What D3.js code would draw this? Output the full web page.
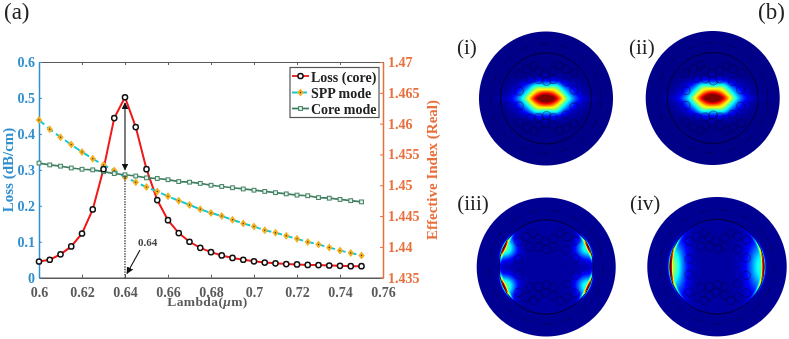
<!DOCTYPE html>
<html>
<head>
<meta charset="utf-8">
<title>Loss and effective index</title>
<script src="https://d3js.org/d3.v7.min.js"></script>
<style>
  html, body { margin: 0; padding: 0; background: #fff; }
  #wrap { position: relative; width: 789px; height: 339px; overflow: hidden; }
  #wrap canvas, #wrap svg { position: absolute; left: 0; top: 0; }
  svg { font-family: "Liberation Serif", serif; }
  #wrap { filter: blur(0.4px); }
</style>
</head>
<body>
<div id="wrap"></div>
<script>
// ---- data ----
var lambda = d3.range(31).map(function(i) { return +(0.6 + i * 0.005).toFixed(3); });
var lossCore = [0.045, 0.05, 0.065, 0.087, 0.123, 0.19, 0.302, 0.444, 0.502, 0.419, 0.302, 0.216, 0.16, 0.124, 0.1, 0.083,
  0.071, 0.062, 0.055, 0.05, 0.0456, 0.042, 0.04, 0.038, 0.037, 0.0355, 0.035, 0.034, 0.033, 0.032, 0.032];
var sppMode = [1.4606, 1.4591, 1.4578, 1.4566, 1.4554, 1.4543, 1.4533, 1.4524, 1.4513, 1.4505, 1.4497, 1.449, 1.4482, 1.4475, 1.4468, 1.4461,
  1.4455, 1.445, 1.4444, 1.4438, 1.4433, 1.4427, 1.4423, 1.4418, 1.4413, 1.4408, 1.4404, 1.4399, 1.4394, 1.439, 1.4386];
var coreMode = [1.4536, 1.4533, 1.4531, 1.4528, 1.4526, 1.4525, 1.4522, 1.4519, 1.4517, 1.4515, 1.4512, 1.4511, 1.4509, 1.4506, 1.4505, 1.4503,
  1.45, 1.4498, 1.4496, 1.4494, 1.4492, 1.449, 1.4488, 1.4486, 1.4484, 1.4483, 1.448, 1.4479, 1.4477, 1.4475, 1.4473];
var xTicks = [0.6, 0.62, 0.64, 0.66, 0.68, 0.7, 0.72, 0.74, 0.76];
var lossTicks = [0, 0.1, 0.2, 0.3, 0.4, 0.5, 0.6];
var indexTicks = [1.435, 1.44, 1.445, 1.45, 1.455, 1.46, 1.465, 1.47];
var legendNames = ["Loss (core)", "SPP mode", "Core mode"];
var panelNames = ["(i)", "(ii)", "(iii)", "(iv)"];

// mode field panels: centre + radius, and how strong each kind of lobe is
var panelX = [546, 712.7, 546.2, 717];
var panelY = [98.5, 98, 267, 266.7];
var panelR = [67, 67, 69.5, 69.7];
var panelKind = ["core", "core", "spp2", "spp1"];
// air holes in the upper half, as fraction of the outer radius (mirrored for the lower half)
var holes = [[-83,-76],[-60,-91],[-38,-101],[-23,-86],[-48,-61],[-83,-23],[-23,-59],[-3,-76],
  [22,-86],[42,-101],[62,-91],[87,-79],[22,-59],[2,-53],[87,-26],[62,-51]].map(function(d) { return [d[0] / 208, d[1] / 208]; });

var W = 789, H = 339;
var blue = "#2f8fcf", orange = "#e8703c", gray = "#5a5a5a";

var wrap = d3.select("#wrap");
var canvas = wrap.append("canvas").attr("width", W).attr("height", H);
var svg = wrap.append("svg").attr("width", W).attr("height", H);

// ---- left chart ----
var x = d3.scaleLinear().domain([0.6, 0.76]).range([39, 383]);
var yLoss = d3.scaleLinear().domain([0, 0.6]).range([277.7, 62]);
var yIndex = d3.scaleLinear().domain([1.435, 1.47]).range([277.7, 62]);

var fmt = function(d) { return String(d); };

function styleAxis(g, color, size) {
  g.selectAll("path").attr("stroke", color).attr("stroke-width", size);
  g.selectAll("line").attr("stroke", color).attr("stroke-width", 1);
  g.selectAll("text").attr("fill", color).style("font-size", "14px").style("font-weight", "bold")
    .style("font-family", '"Liberation Serif", serif');
}

var axisT = svg.append("g").attr("transform", "translate(0,62)")
  .call(d3.axisTop(x).tickValues(xTicks).tickSize(-3).tickSizeOuter(0).tickFormat(""));
styleAxis(axisT, gray, 1);
var axisB = svg.append("g").attr("transform", "translate(0,277.7)")
  .call(d3.axisBottom(x).tickValues(xTicks).tickSize(-3).tickSizeOuter(0).tickPadding(9).tickFormat(fmt));
styleAxis(axisB, gray, 1.6);
var axisL = svg.append("g").attr("transform", "translate(39,0)")
  .call(d3.axisLeft(yLoss).tickValues(lossTicks).tickSize(-3).tickSizeOuter(0).tickPadding(4).tickFormat(fmt));
styleAxis(axisL, blue, 1.5);
var axisR = svg.append("g").attr("transform", "translate(383,0)")
  .call(d3.axisRight(yIndex).tickValues(indexTicks).tickSize(-3).tickSizeOuter(0).tickPadding(5).tickFormat(fmt));
styleAxis(axisR, orange, 1.5);

svg.append("text").attr("transform", "translate(13,170) rotate(-90)").attr("text-anchor", "middle")
  .attr("fill", blue).style("font-size", "15px").style("font-weight", "bold").text("Loss (dB/cm)");
svg.append("text").attr("transform", "translate(437,170) rotate(-90)").attr("text-anchor", "middle")
  .attr("fill", orange).style("font-size", "15px").style("font-weight", "bold").text("Effective Index (Real)");
var xl = svg.append("text").attr("x", 207.5).attr("y", 306).attr("text-anchor", "middle").attr("fill", gray)
  .style("font-size", "13.5px").style("font-weight", "bold").style("letter-spacing", "0.4px");
xl.append("tspan").text("Lambda(");
xl.append("tspan").style("font-style", "italic").text("\u03bc");
xl.append("tspan").text("m)");

// series
var lineLoss = d3.line().x(function(d, i) { return x(lambda[i]); }).y(function(d) { return yLoss(d); });
var lineIndex = d3.line().x(function(d, i) { return x(lambda[i]); }).y(function(d) { return yIndex(d); });

svg.append("path").attr("d", lineLoss(lossCore)).attr("fill", "none").attr("stroke", "#f01818").attr("stroke-width", 2);
svg.append("path").attr("d", lineIndex(sppMode)).attr("fill", "none").attr("stroke", "#18c8d0")
  .attr("stroke-width", 2).attr("stroke-dasharray", "7,4");
svg.append("path").attr("d", lineIndex(coreMode)).attr("fill", "none").attr("stroke", "#3f7f60").attr("stroke-width", 1.7);

var diamond = "M0,-4L3.2,0L0,4L-3.2,0Z";
function sppMarker(g) {
  g.append("path").attr("d", diamond).attr("fill", "#f4b020");
  g.append("circle").attr("r", 0.7).attr("fill", "#333");
}
function coreMarker(g) {
  g.append("rect").attr("x", -1.9).attr("y", -1.9).attr("width", 3.8).attr("height", 3.8)
    .attr("fill", "#e8f2ec").attr("stroke", "#3f7f60").attr("stroke-width", 1);
}
function lossMarker(g) {
  g.append("circle").attr("r", 2.6).attr("fill", "#fff").attr("stroke", "#111").attr("stroke-width", 1.5);
}

svg.append("g").selectAll("g").data(sppMode).join("g")
  .attr("transform", function(d, i) { return "translate(" + x(lambda[i]) + "," + yIndex(d) + ")"; })
  .each(function() { sppMarker(d3.select(this)); });
svg.append("g").selectAll("g").data(coreMode).join("g")
  .attr("transform", function(d, i) { return "translate(" + x(lambda[i]) + "," + yIndex(d) + ")"; })
  .each(function() { coreMarker(d3.select(this)); });
svg.append("g").selectAll("g").data(lossCore).join("g")
  .attr("transform", function(d, i) { return "translate(" + x(lambda[i]) + "," + yLoss(d) + ")"; })
  .each(function() { lossMarker(d3.select(this)); });

// annotation arrows
var defs = svg.append("defs");
defs.append("marker").attr("id", "head").attr("viewBox", "0 0 10 10").attr("refX", 9).attr("refY", 5)
  .attr("markerWidth", 7).attr("markerHeight", 7).attr("markerUnits", "userSpaceOnUse").attr("orient", "auto-start-reverse")
  .append("path").attr("d", "M0,0L10,5L0,10Z").attr("fill", "#111");
var x64 = x(0.64);
svg.append("line").attr("x1", x64).attr("x2", x64).attr("y1", yLoss(0.486)).attr("y2", yLoss(0.3))
  .attr("stroke", "#111").attr("stroke-width", 1.1)
  .attr("marker-start", "url(#head)").attr("marker-end", "url(#head)");
svg.append("line").attr("x1", x64).attr("x2", x64).attr("y1", yLoss(0.285)).attr("y2", yLoss(0))
  .attr("stroke", "#222").attr("stroke-width", 1.2).attr("stroke-dasharray", "1.4,1.2");
svg.append("line").attr("x1", 140).attr("y1", 250).attr("x2", 127).attr("y2", 273.5)
  .attr("stroke", "#111").attr("stroke-width", 1.1).attr("marker-end", "url(#head)");
svg.append("text").attr("x", 138).attr("y", 246).attr("fill", "#444")
  .style("font-size", "11px").style("font-weight", "bold").text("0.64");

// legend
var lg = svg.append("g");
lg.append("rect").attr("x", 290).attr("y", 67.5).attr("width", 89).attr("height", 50)
  .attr("fill", "#fff").attr("stroke", "#555").attr("stroke-width", 1.2);
var legendY = [76, 92.5, 108.5];
var sampleStyle = [["#f01818", null], ["#18c8d0", "6,3"], ["#3f7f60", null]];
var sampleMarker = [lossMarker, sppMarker, coreMarker];
legendNames.forEach(function(name, i) {
  lg.append("line").attr("x1", 292).attr("x2", 309).attr("y1", legendY[i]).attr("y2", legendY[i])
    .attr("stroke", sampleStyle[i][0]).attr("stroke-width", 1.8).attr("stroke-dasharray", sampleStyle[i][1]);
  sampleMarker[i](lg.append("g").attr("transform", "translate(300.5," + legendY[i] + ")"));
  lg.append("text").attr("x", 311).attr("y", legendY[i] + 5.5).attr("fill", "#222")
    .style("font-size", "14px").style("font-weight", "bold").text(name);
});

// ---- mode fields ----
var jet = d3.scaleLinear()
  .domain([0, 0.125, 0.375, 0.625, 0.875, 1])
  .range(["#000088", "#0000ff", "#00ffff", "#ffff00", "#ff0000", "#800000"])
  .clamp(true);

function g2(dx, dy, sx, sy) { return Math.exp(-(dx * dx) / (sx * sx) - (dy * dy) / (sy * sy)); }

function coreField(dx, dy) {
  var v = 1.05 * g2(dx, dy, 21.5, 12.5);
  v += 0.09 * g2(dx, dy, 36, 3);
  v += 0.1 * (g2(dx - 10, dy - 12, 6, 4.5) + g2(dx + 10, dy - 12, 6, 4.5) + g2(dx - 10, dy + 12, 6, 4.5) + g2(dx + 10, dy + 12, 6, 4.5));
  return v;
}

// lobe hugging the metal ring; ang in degrees from the horizontal
function lobe(rho, ang, ang0, angW, amp, R, s2) {
  var da = (ang - ang0) / angW;
  var a = Math.exp(-da * da);
  var d = R - rho;
  var rad = d > 0 ? Math.exp(-(d * d) / s2) : Math.exp(-(d * d) / 5);
  var thin = Math.exp(-(d * d) / 1.6);
  return a * (amp * rad + 0.55 * thin);
}

function sppField(kind, dx, dy, R) {
  var rho = Math.sqrt(dx * dx + dy * dy);
  var ang = Math.atan2(dy, Math.abs(dx)) * 180 / Math.PI;
  var v = rho < R ? 0.025 : 0.01;
  if (kind === "spp2") {
    var ampS = dx < 0 ? 0.48 : 0.42;
    v += lobe(rho, ang, -25, 14, ampS, R, 130) + lobe(rho, ang, 25, 14, ampS, R, 130);
  } else {
    var ampL = dx < 0 ? 0.52 : 0.42;
    v += lobe(rho, ang, 0, 30, ampL, R, dx < 0 ? 180 : 220);
  }
  return v;
}

var ctx = canvas.node().getContext("2d");
var img = ctx.createImageData(W, H);
panelX.forEach(function(cx, p) {
  var r = panelR[p], kind = panelKind[p];
  var cy = panelY[p];
  var ringR = r * 0.665;
  d3.range(Math.floor(cy - r - 2), Math.min(H, Math.ceil(cy + r + 2))).forEach(function(py) {
    d3.range(Math.floor(cx - r - 2), Math.min(W, Math.ceil(cx + r + 2))).forEach(function(px) {
      var dx = px + 0.5 - cx, dy = py + 0.5 - cy;
      var dist = Math.sqrt(dx * dx + dy * dy);
      var alpha = Math.max(0, Math.min(1, r + 0.5 - dist));
      if (alpha <= 0) return;
      var v = kind === "core" ? coreField(dx, dy) : sppField(kind, dx, dy, ringR);
      var c = d3.rgb(jet(v));
      var k = (py * W + px) * 4;
      img.data[k] = c.r; img.data[k + 1] = c.g; img.data[k + 2] = c.b; img.data[k + 3] = alpha * 255;
    });
  });
});
ctx.putImageData(img, 0, 0);

// structure outlines on top of the fields
panelX.forEach(function(cx, p) {
  var r = panelR[p], cy = panelY[p];
  var g = svg.append("g").attr("transform", "translate(" + cx + "," + cy + ")");
  g.append("circle").attr("r", r * 0.68).attr("fill", "none").attr("stroke", "#00002c").attr("stroke-width", 0.9);
  g.append("circle").attr("r", r * 0.82).attr("fill", "none").attr("stroke", "#000040").attr("stroke-opacity", 0.8)
    .attr("stroke-width", 0.7).attr("stroke-dasharray", "9,5,2,5");
  holes.forEach(function(h) {
    [1, -1].forEach(function(s) {
      g.append("circle").attr("cx", h[0] * r).attr("cy", s * h[1] * r).attr("r", r * 0.06)
        .attr("fill", "none").attr("stroke", "#000040").attr("stroke-opacity", 0.75).attr("stroke-width", 0.7);
    });
  });
});

// ---- panel labels ----
function label(t, px, py, size) {
  svg.append("text").attr("x", px).attr("y", py).attr("fill", "#222").style("font-size", size + "px").text(t);
}
label("(a)", 4, 19, 23);
label("(b)", 758, 19, 23);
var labelX = [457, 629, 457.3, 630];
var labelY = [54, 54, 210, 210];
panelNames.forEach(function(t, i) { label(t, labelX[i], labelY[i], 21); });
</script>
</body>
</html>
